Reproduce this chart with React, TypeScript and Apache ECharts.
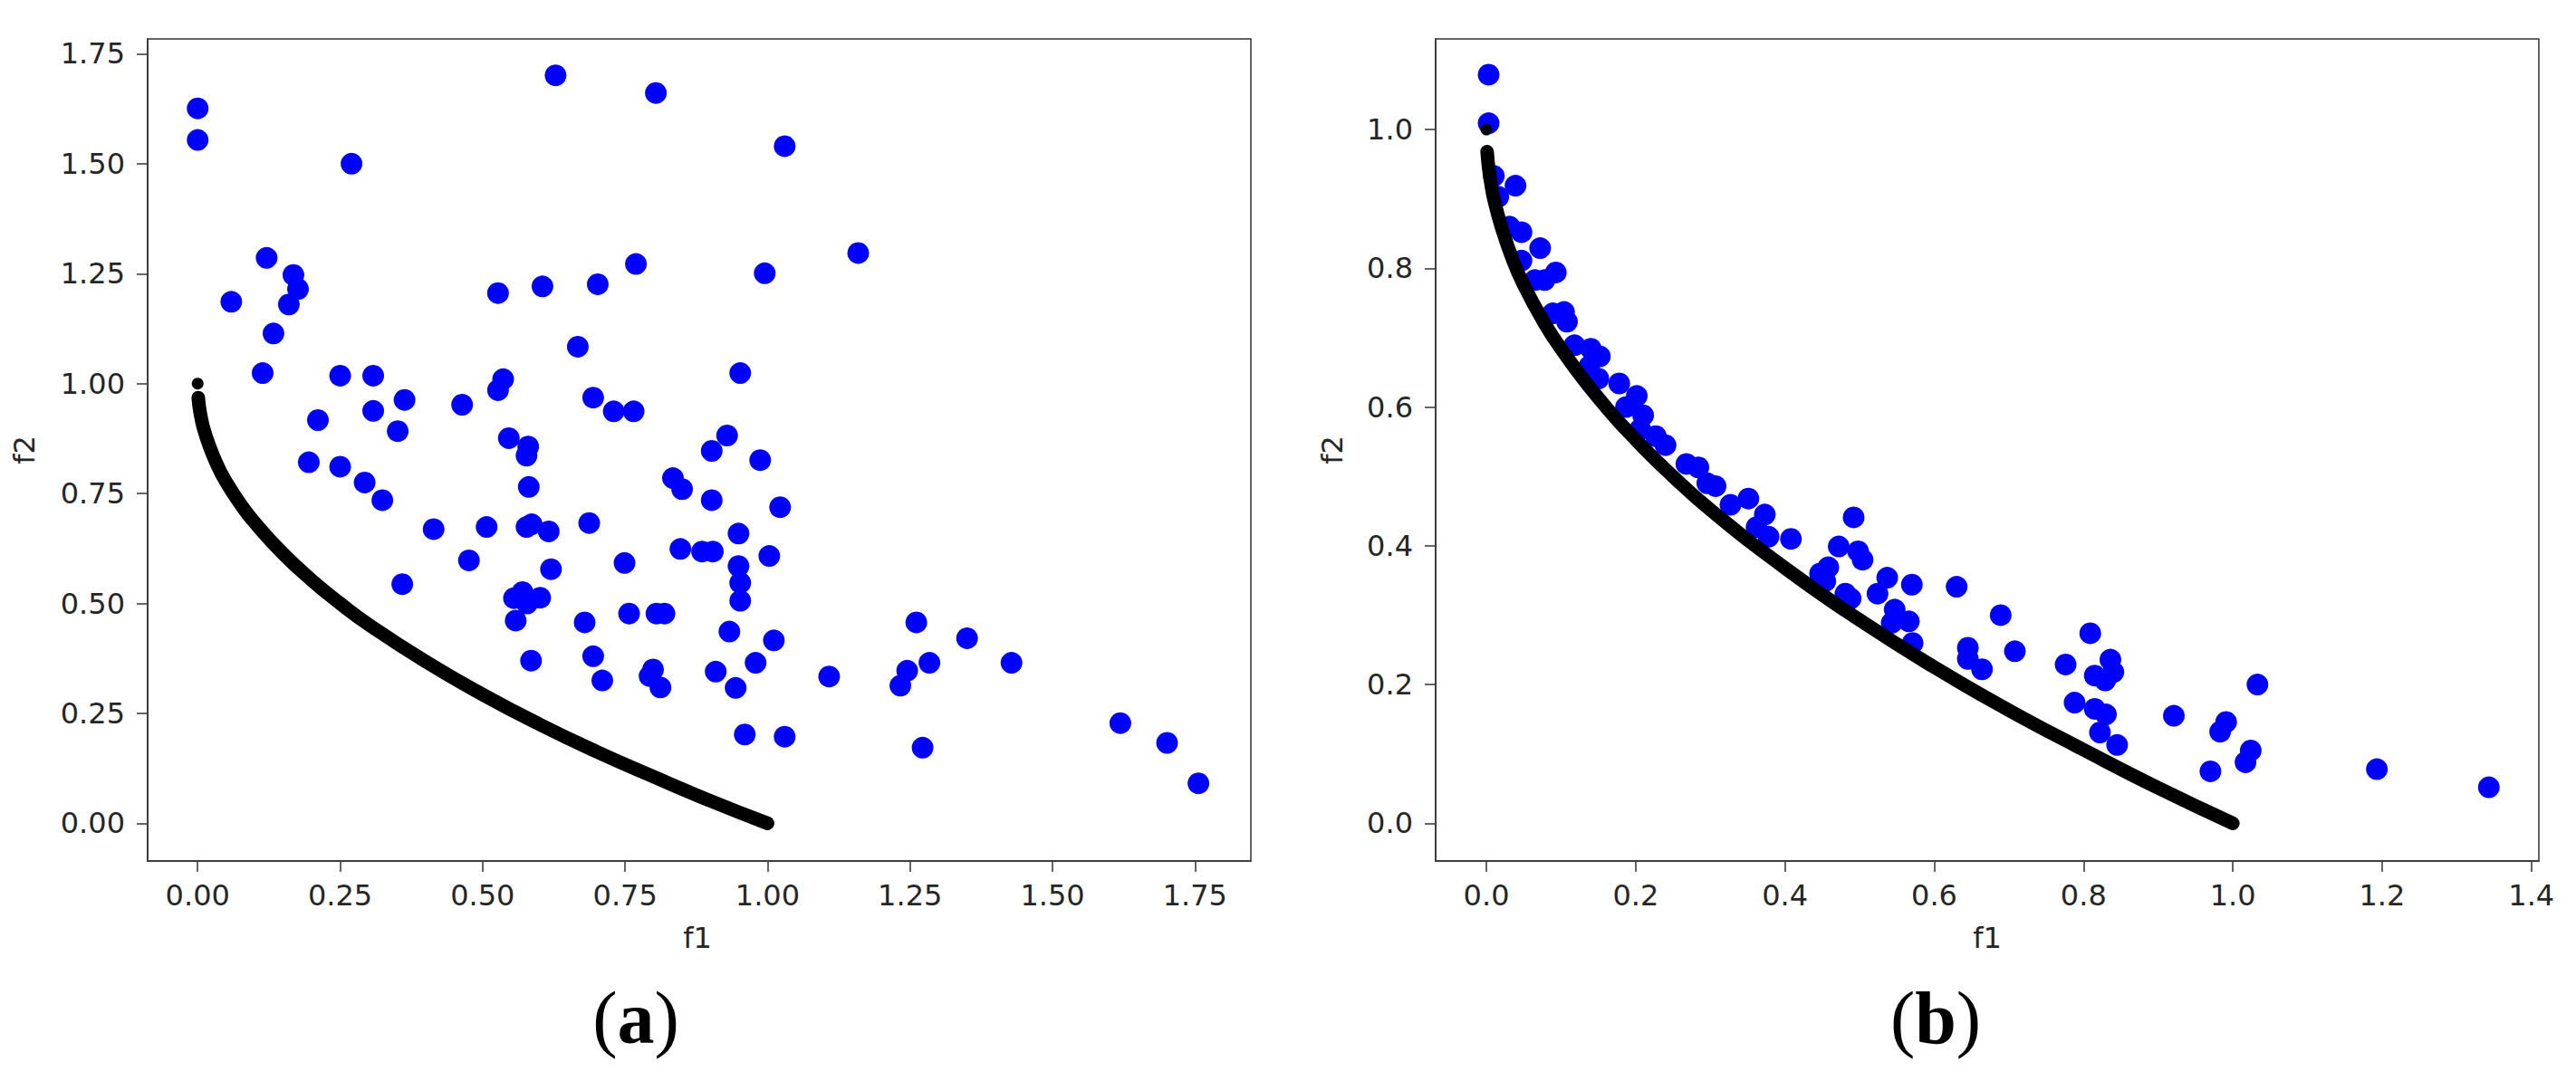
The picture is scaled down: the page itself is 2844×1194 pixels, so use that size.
import React, { useEffect, useRef } from "react";
import * as echarts from "echarts";

// ---- Data ----
// (a) left panel: blue population points
const leftF1 = [
  0.0, 0.0, 0.27, 0.628, 0.804,
  0.121, 0.168, 0.176, 0.059, 0.16, 0.133, 0.114,
  0.25, 0.308, 0.363, 0.308, 0.211, 0.351,
  0.195, 0.25, 0.293, 0.324,
  0.464, 0.536, 0.527,
  0.527, 0.605, 0.702, 0.769, 0.667,
  0.694, 0.73, 0.765,
  0.546, 0.58, 0.577, 0.581,
  0.834, 0.85,
  0.687, 0.414, 0.507, 0.577, 0.586, 0.616,
  0.476, 0.62, 0.749, 0.847, 0.359,
  0.555, 0.57, 0.578, 0.601,
  0.558, 0.679, 0.757, 0.805, 0.819,
  0.585, 0.694, 0.71, 0.799, 0.793, 0.812,
  1.03, 1.159, 0.995, 0.952, 0.929, 0.902, 0.987,
  0.902, 1.022, 0.949, 0.885, 0.904, 1.003, 0.949, 0.952, 0.952,
  0.933, 1.011, 0.979, 0.909, 0.944, 1.108,
  1.261, 1.35, 1.284, 1.245, 1.233, 1.428,
  0.96, 1.03, 1.272, 1.619, 1.701, 1.756,
];
const leftF2 = [
  1.626, 1.554, 1.5, 1.701, 1.661,
  1.286, 1.247, 1.215, 1.186, 1.18, 1.114, 1.024,
  1.018, 1.018, 0.963, 0.938, 0.917, 0.892,
  0.821, 0.811, 0.775, 0.735,
  0.952, 1.01, 0.985,
  1.206, 1.221, 1.226, 1.272, 1.084,
  0.968, 0.937, 0.937,
  0.876, 0.857, 0.836, 0.765,
  0.785, 0.76,
  0.683, 0.669, 0.674, 0.674, 0.68, 0.664,
  0.598, 0.578, 0.592, 0.624, 0.544,
  0.512, 0.526, 0.5, 0.513,
  0.461, 0.457, 0.477, 0.477, 0.477,
  0.37, 0.38, 0.325, 0.35, 0.335, 0.309,
  1.54, 1.297, 1.251, 1.024, 0.882, 0.847, 0.826,
  0.735, 0.719, 0.659, 0.618, 0.618, 0.608, 0.585, 0.547, 0.506,
  0.436, 0.416, 0.365, 0.345, 0.308, 0.334,
  0.457, 0.421, 0.365, 0.347, 0.313, 0.365,
  0.202, 0.197, 0.172, 0.228, 0.183, 0.091,
];

// (b) right panel: blue population points
const rightF1 = [
  0.003, 0.003, 0.01, 0.039, 0.016, 0.031, 0.047, 0.072, 0.047, 0.093,
  0.078, 0.065, 0.089, 0.104, 0.108, 0.118, 0.14, 0.152, 0.138, 0.15,
  0.178, 0.2015, 0.187, 0.21, 0.206, 0.227, 0.24,
  0.268, 0.284, 0.296, 0.307, 0.327, 0.351, 0.373, 0.362, 0.378, 0.408,
  0.492, 0.472, 0.498, 0.504, 0.458, 0.447, 0.454, 0.481, 0.488, 0.537,
  0.524, 0.57, 0.63, 0.547, 0.566, 0.543, 0.571, 0.689, 0.645, 0.645,
  0.664, 0.708, 0.809, 0.776, 0.836, 0.84, 0.815, 0.829, 0.788, 0.815,
  0.83, 0.822, 0.845, 0.921, 1.033, 0.991, 0.983, 1.024, 1.017, 0.97,
  1.193, 1.343,
];
const rightF2 = [
  1.079, 1.009, 0.933, 0.919, 0.903, 0.86, 0.852, 0.829, 0.811, 0.794,
  0.783, 0.783, 0.735, 0.737, 0.723, 0.689, 0.684, 0.673, 0.659, 0.641,
  0.634, 0.616, 0.6, 0.588, 0.568, 0.558, 0.545,
  0.518, 0.513, 0.49, 0.486, 0.459, 0.468, 0.445, 0.427, 0.413, 0.41,
  0.441, 0.399, 0.392, 0.38, 0.369, 0.36, 0.349, 0.331, 0.324, 0.354,
  0.331, 0.344, 0.341, 0.308, 0.291, 0.289, 0.26, 0.3, 0.253, 0.237,
  0.222, 0.248, 0.274, 0.229, 0.236, 0.218, 0.213, 0.206, 0.174, 0.165,
  0.157, 0.131, 0.113, 0.155, 0.2, 0.146, 0.132, 0.105, 0.088, 0.075,
  0.078, 0.052,
];

// Black front curve (same in both panels)
const curveF1 = [0.001, 0.003, 0.006, 0.01, 0.02, 0.035, 0.05, 0.075, 0.1, 0.15, 0.2, 0.25, 0.3, 0.4, 0.5, 0.6, 0.7, 0.8, 0.9, 1.0];
const curveF2 = [0.968, 0.945, 0.923, 0.9, 0.86, 0.813, 0.776, 0.726, 0.684, 0.613, 0.553, 0.5, 0.452, 0.368, 0.293, 0.225, 0.163, 0.106, 0.051, 0.0];
const curveTopF1 = [0.0];
const curveTopF2 = [1.0];

// Tick values
const leftXTicks = [0, 0.25, 0.5, 0.75, 1.0, 1.25, 1.5, 1.75];
const leftYTicks = [0, 0.25, 0.5, 0.75, 1.0, 1.25, 1.5, 1.75];
const rightXTicks = [0, 0.2, 0.4, 0.6, 0.8, 1.0, 1.2, 1.4];
const rightYTicks = [0, 0.2, 0.4, 0.6, 0.8, 1.0];

const zip = (a: number[], b: number[]) => a.map((v, i) => [v, b[i]]);

const FONT = "DejaVu Sans";
const AX = "#333333";
const TXT = "#262626";

function valueAxis(
  gridIndex: number,
  min: number,
  max: number,
  ticks: number[],
  digits: number,
  isX: boolean
) {
  return {
    type: "value",
    gridIndex,
    min,
    max,
    position: isX ? "bottom" : "left",
    axisLine: { show: true, onZero: false, lineStyle: { color: AX, width: 1.5 } },
    axisTick: {
      show: true,
      length: 12,
      inside: false,
      customValues: ticks,
      lineStyle: { color: AX, width: 1.5 },
    },
    axisLabel: {
      show: true,
      customValues: ticks,
      formatter: (v: number) => Number(v).toFixed(digits),
      fontFamily: FONT,
      fontSize: 32,
      color: TXT,
      margin: isX ? 22 : 25,
      showMinLabel: true,
      showMaxLabel: true,
    },
    splitLine: { show: false },
  };
}

const labelRich = {
  p: { fontFamily: "Liberation Serif", fontSize: 82, fontWeight: "normal", fill: "#000" },
  b: { fontFamily: "Liberation Serif", fontSize: 82, fontWeight: "bold", fill: "#000" },
};

export default function App() {
  const ref = useRef<HTMLDivElement>(null);

  useEffect(() => {
    if (!ref.current) return;
    const chart = echarts.init(ref.current, undefined, { renderer: "svg" });

    const textStyle = (text: string) => ({
      text,
      fontFamily: FONT,
      fontSize: 32,
      fill: TXT,
      align: "center",
      verticalAlign: "middle",
    });

    const blue = { color: "#0000ff", opacity: 1 };
    const black = { color: "#000000", opacity: 1 };

    const option: any = {
      animation: false,
      backgroundColor: "#ffffff",
      grid: [
        { left: 163, top: 43, width: 1218, height: 908, show: true, borderColor: AX, borderWidth: 1.5, backgroundColor: "transparent" },
        { left: 1585, top: 43, width: 1218, height: 908, show: true, borderColor: AX, borderWidth: 1.5, backgroundColor: "transparent" },
      ],
      xAxis: [
        valueAxis(0, -0.0878, 1.848, leftXTicks, 2, true),
        valueAxis(1, -0.068, 1.41, rightXTicks, 1, true),
      ],
      yAxis: [
        valueAxis(0, -0.0857, 1.7838, leftYTicks, 2, false),
        valueAxis(1, -0.0543, 1.1305, rightYTicks, 1, false),
      ],
      series: [
        {
          type: "scatter",
          xAxisIndex: 0,
          yAxisIndex: 0,
          data: zip(leftF1, leftF2),
          symbol: "circle",
          symbolSize: 24,
          itemStyle: blue,
          emphasis: { disabled: true },
          z: 2,
        },
        {
          type: "line",
          xAxisIndex: 0,
          yAxisIndex: 0,
          data: zip(curveF1, curveF2),
          smooth: true,
          showSymbol: false,
          symbol: "none",
          lineStyle: { color: "#000000", width: 15, cap: "round", join: "round", opacity: 1 },
          z: 3,
        },
        {
          type: "scatter",
          xAxisIndex: 0,
          yAxisIndex: 0,
          data: zip(curveTopF1, curveTopF2),
          symbolSize: 13,
          itemStyle: black,
          z: 3,
        },
        {
          type: "scatter",
          xAxisIndex: 1,
          yAxisIndex: 1,
          data: zip(rightF1, rightF2),
          symbol: "circle",
          symbolSize: 24,
          itemStyle: blue,
          emphasis: { disabled: true },
          z: 2,
        },
        {
          type: "line",
          xAxisIndex: 1,
          yAxisIndex: 1,
          data: zip(curveF1, curveF2),
          smooth: true,
          showSymbol: false,
          symbol: "none",
          lineStyle: { color: "#000000", width: 15, cap: "round", join: "round", opacity: 1 },
          z: 3,
        },
        {
          type: "scatter",
          xAxisIndex: 1,
          yAxisIndex: 1,
          data: zip(curveTopF1, curveTopF2),
          symbolSize: 13,
          itemStyle: black,
          z: 3,
        },
      ],
      graphic: [
        { type: "text", x: 770, y: 1036, style: textStyle("f1") },
        { type: "text", x: 2194, y: 1036, style: textStyle("f1") },
        { type: "text", x: 27, y: 497, rotation: Math.PI / 2, style: textStyle("f2") },
        { type: "text", x: 1471, y: 497, rotation: Math.PI / 2, style: textStyle("f2") },
        {
          type: "text",
          x: 702,
          y: 1124,
          style: {
            text: "{p|(}{b|a}{p|)}",
            align: "center",
            verticalAlign: "middle",
            rich: labelRich,
          },
        },
        {
          type: "text",
          x: 2137,
          y: 1124,
          style: {
            text: "{p|(}{b|b}{p|)}",
            align: "center",
            verticalAlign: "middle",
            rich: labelRich,
          },
        },
      ],
    };

    chart.setOption(option);
    return () => {
      chart.dispose();
    };
  }, []);

  return (
    <div
      ref={ref}
      style={{ position: "absolute", left: 0, top: 0, width: 2844, height: 1194, background: "#fff" }}
    />
  );
}
